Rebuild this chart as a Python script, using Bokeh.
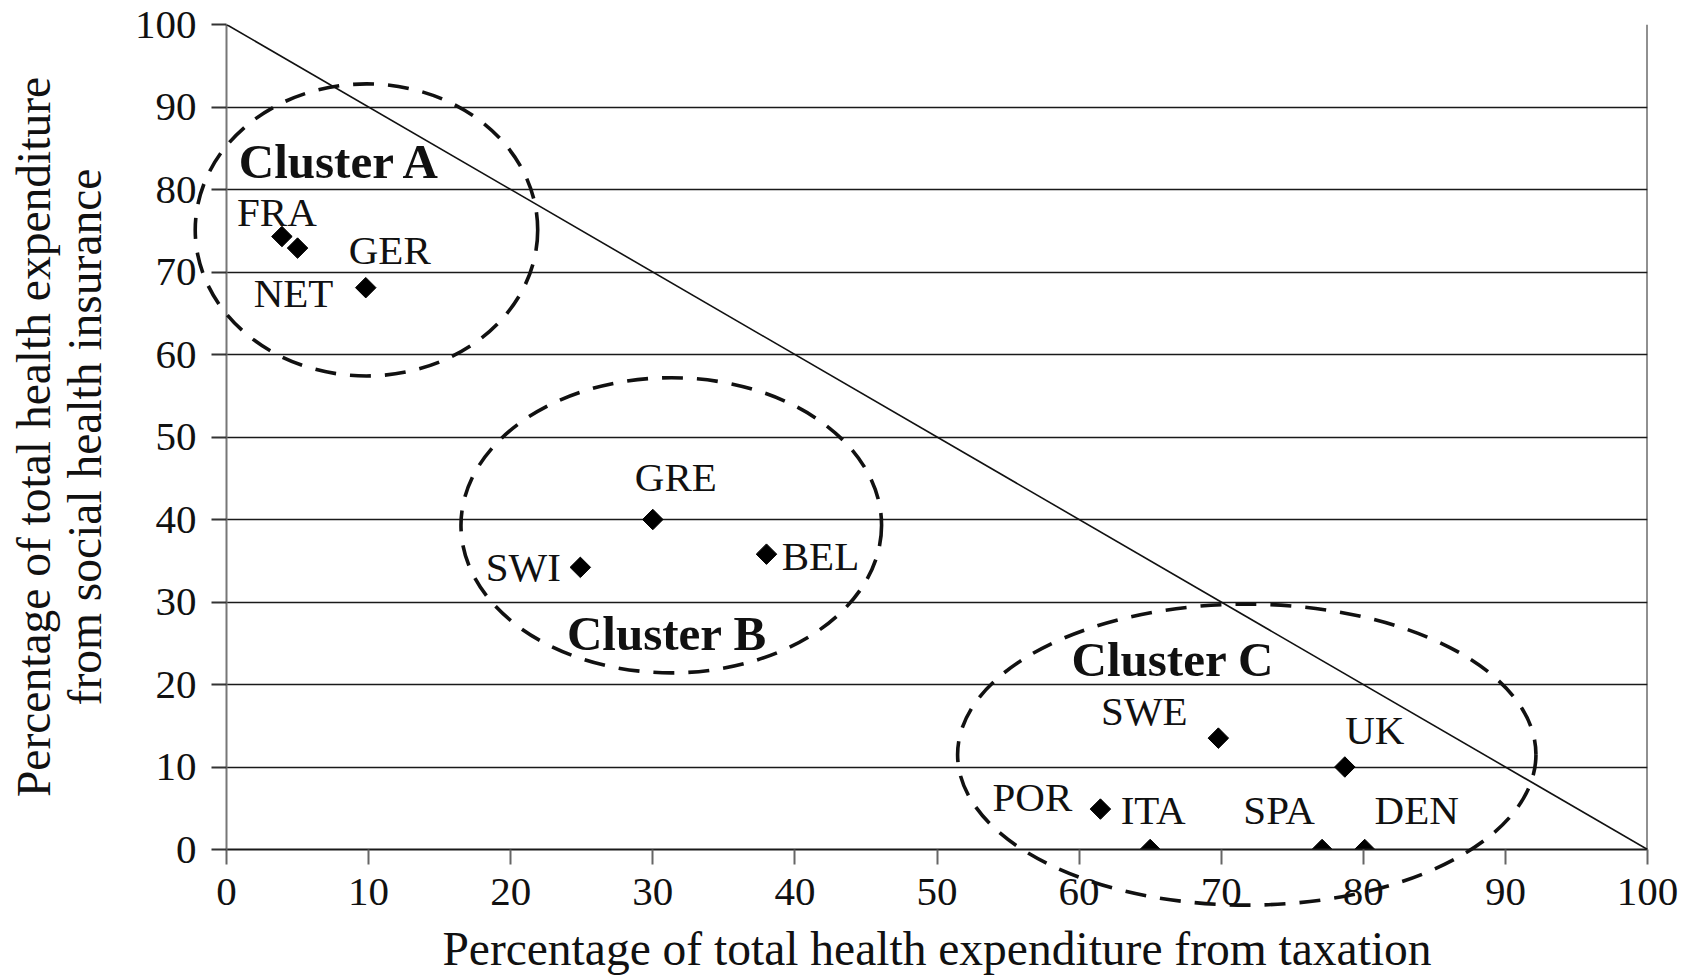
import numpy as np
from bokeh.plotting import figure
from bokeh.models import Range1d, FixedTicker, Slope, Span, Label, ColumnDataSource
from bokeh.core.properties import value
from bokeh.embed import file_html
from bokeh.resources import INLINE

# ---- data ----
countries = ["FRA", "NET", "GER", "GRE", "SWI", "BEL", "SWE", "UK", "POR", "ITA", "SPA", "DEN"]
tax_pct = [3.9, 5.0, 9.8, 30.0, 24.9, 38.0, 69.8, 78.7, 61.5, 65.0, 77.1, 80.1]
shi_pct = [74.3, 72.9, 68.1, 40.0, 34.2, 35.8, 13.5, 10.0, 4.9, 0.0, 0.0, 0.0]

cluster_names = ["Cluster A", "Cluster B", "Cluster C"]
cluster_cx = [9.85, 31.3, 71.8]
cluster_cy = [75.1, 39.3, 11.5]
cluster_w = [24.1, 29.6, 40.7]
cluster_h = [35.4, 35.8, 36.5]
cluster_label_x = [8.0, 31.0, 66.6]
cluster_label_y = [83.4, 26.2, 23.0]

ticks = [0, 10, 20, 30, 40, 50, 60, 70, 80, 90, 100]

# label offsets in screen pixels (dx right, dy down)
label_dx = {"FRA": -5, "NET": -4, "GER": 24, "GRE": 23, "SWI": -57, "BEL": 54,
            "SWE": -74, "UK": 30, "POR": -68, "ITA": 3, "SPA": -43, "DEN": 52}
label_dy = {"FRA": -25, "NET": 45, "GER": -38, "GRE": -43, "SWI": 0, "BEL": 2,
            "SWE": -27, "UK": -37, "POR": -12, "ITA": -40, "SPA": -40, "DEN": -40}

FONT = "Liberation Serif"

p = figure(width=1696, height=977, output_backend="svg", toolbar_location=None,
           x_range=Range1d(0, 100), y_range=Range1d(0, 100),
           min_border_left=226, min_border_right=49, min_border_top=24, min_border_bottom=128)
p.background_fill_color = "white"
p.border_fill_color = "white"
p.outline_line_color = None

# grid
p.xgrid.visible = False
p.ygrid.ticker = FixedTicker(ticks=ticks)
p.ygrid.grid_line_color = "#1a1a1a"
p.ygrid.grid_line_width = 1.6

# axes
for ax in (p.xaxis[0], p.yaxis[0]):
    ax.ticker = FixedTicker(ticks=ticks)
    ax.major_label_text_font = FONT
    ax.major_label_text_font_size = "41px"
    ax.major_label_text_color = "#111111"
    ax.axis_label_text_font = FONT
    ax.axis_label_text_font_size = "47.5px"
    ax.axis_label_text_font_style = "normal"
    ax.axis_label_text_color = "#111111"
    ax.major_tick_in = 0
    ax.major_tick_out = 15
    ax.minor_tick_in = 0
    ax.minor_tick_out = 0
    ax.major_tick_line_width = 2

p.xaxis.axis_label = "Percentage of total health expenditure from taxation"
p.xaxis.axis_line_color = "#1a1a1a"
p.xaxis.axis_line_width = 2
p.xaxis.major_tick_line_color = "#666666"
p.xaxis.major_label_standoff = 14
p.xaxis.axis_label_standoff = 15
p.xaxis.axis_label_text_line_height = 1.0

p.yaxis.axis_label = "Percentage of total health expenditure\nfrom social health insurance"
p.yaxis.axis_line_color = "#777777"
p.yaxis.axis_line_width = 2
p.yaxis.major_tick_line_color = "#333333"
p.yaxis.major_label_standoff = 15
p.yaxis.axis_label_standoff = 21
p.yaxis.axis_label_text_line_height = 0.98
p.yaxis.major_label_orientation = "horizontal"

# right border
p.add_layout(Span(location=100, dimension="height", line_color="#222222", line_width=2))

# diagonal reference line
p.add_layout(Slope(gradient=-1, y_intercept=100, line_color="#111111", line_width=1.6))

# cluster ellipses
ell = p.ellipse(x=cluster_cx, y=cluster_cy, width=cluster_w, height=cluster_h,
                fill_color=None, line_color="#111111", line_width=3.6, line_dash="21 14")
ell.level = "overlay"

# points
src = ColumnDataSource(dict(
    x=tax_pct, y=shi_pct, name=countries,
    dx=[label_dx[c] for c in countries], dy=[label_dy[c] for c in countries]))
p.scatter(x="x", y="y", source=src, marker="square", size=14.5, angle=np.pi / 4,
          fill_color="#000000", line_color="#000000")
p.text(x="x", y="y", text="name", source=src, x_offset="dx", y_offset="dy",
       text_font=value(FONT), text_font_size="41px", text_align="center",
       text_baseline="middle", text_color="#111111")

# cluster labels
for name, lx, ly in zip(cluster_names, cluster_label_x, cluster_label_y):
    p.add_layout(Label(x=lx, y=ly, text=name, text_font=FONT, text_font_size="49px",
                       text_font_style="bold", text_align="center", text_baseline="middle",
                       text_color="#111111"))

open("out.html", "w").write(file_html(p, INLINE))
